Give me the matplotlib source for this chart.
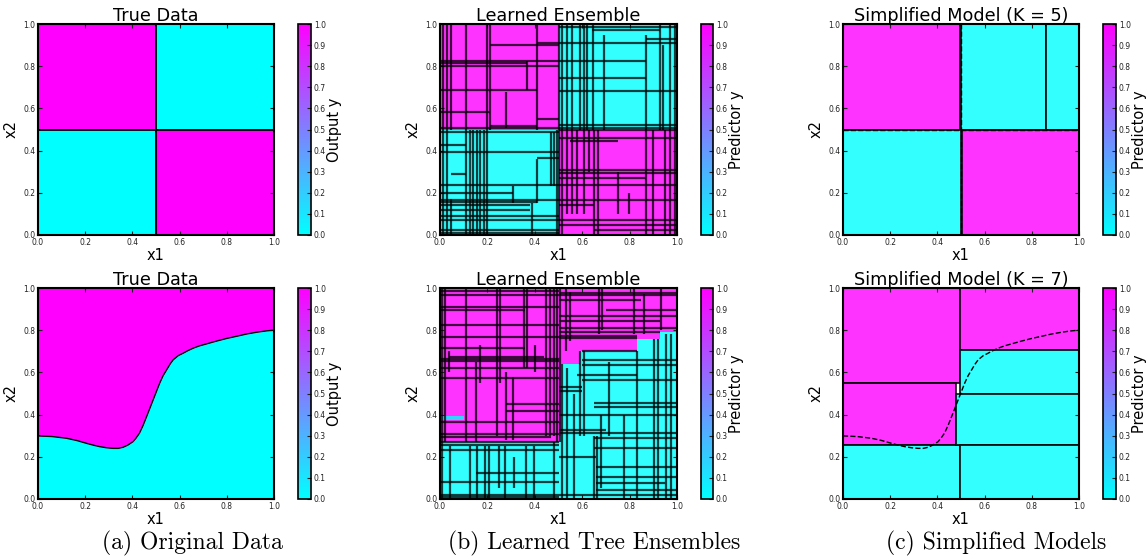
import matplotlib
matplotlib.use('Agg')
import matplotlib.pyplot as plt
import matplotlib.patches as mpatches
from matplotlib.collections import LineCollection
from matplotlib.colors import Normalize
from matplotlib.cm import ScalarMappable
import numpy as np

# ---- data ----
# cells are (x0, y0, x1, y1, value)
quad_cells = [(0.0, 0.5, 0.5, 1.0, 1), (0.5, 0.5, 1.0, 1.0, 0),
              (0.0, 0.0, 0.5, 0.5, 0), (0.5, 0.0, 1.0, 0.5, 1)]

# true boundary of the second dataset
curve_x = [0.0, 0.06, 0.12, 0.165, 0.205, 0.235, 0.262, 0.29, 0.318, 0.34, 0.36, 0.38,
           0.403, 0.415, 0.43, 0.445, 0.46, 0.474, 0.488, 0.502, 0.516, 0.53, 0.545,
           0.56, 0.573, 0.595, 0.615, 0.635, 0.658, 0.685, 0.714, 0.755, 0.8, 0.845,
           0.884, 0.93, 0.969, 1.0]
curve_y = [0.299, 0.296, 0.288, 0.277, 0.264, 0.255, 0.248, 0.243, 0.240, 0.240, 0.245, 0.255,
           0.272, 0.288, 0.312, 0.348, 0.39, 0.43, 0.47, 0.51, 0.55, 0.584, 0.612,
           0.64, 0.66, 0.68, 0.691, 0.703, 0.715, 0.726, 0.735, 0.748, 0.761, 0.772,
           0.782, 0.791, 0.797, 0.800]

# learned ensemble, dataset 1: vertical (x, y0, y1) and horizontal (y, x0, x1) splits
ens1_cells = quad_cells
ens1_vsegs = [(0.014, 0.5, 1), (0.028, 0.5, 1), (0.045, 0.5, 1), (0.11, 0.5, 1), (0.197, 0.5, 1),
              (0.21, 0.5, 1), (0.28, 0.505, 0.68), (0.366, 0.685, 0.825), (0.41, 0.5, 1), (0.5, 0, 1),
              (0.014, 0, 0.5), (0.028, 0, 0.5), (0.045, 0, 0.17), (0.11, 0, 0.5), (0.127, 0, 0.5),
              (0.14, 0, 0.5), (0.155, 0, 0.5), (0.17, 0, 0.5), (0.187, 0, 0.5), (0.2, 0, 0.5),
              (0.31, 0.15, 0.23), (0.387, 0, 0.15), (0.41, 0.15, 0.36), (0.47, 0.23, 0.49),
              (0.48, 0.23, 0.49), (0.495, 0, 0.5),
              (0.514, 0.5, 1), (0.535, 0.5, 1), (0.556, 0.5, 1), (0.59, 0.5, 1), (0.606, 0.5, 1),
              (0.62, 0.5, 1), (0.645, 0.5, 1), (0.693, 0.5, 0.95), (0.87, 0.5, 0.95), (0.93, 0.5, 1),
              (0.943, 0.5, 0.9), (0.972, 0.5, 1), (0.993, 0.5, 1),
              (0.514, 0, 0.5), (0.535, 0.1, 0.5), (0.556, 0.1, 0.5), (0.577, 0.1, 0.5),
              (0.606, 0.1, 0.5), (0.627, 0.3, 0.5), (0.648, 0, 0.5), (0.665, 0, 0.5),
              (0.753, 0.1, 0.3), (0.796, 0.1, 0.2), (0.87, 0, 0.5), (0.9, 0, 0.5), (0.95, 0, 0.5),
              (0.972, 0, 0.5), (0.993, 0, 0.5)]
ens1_hsegs = [(0.908, 0.41, 0.5), (0.9, 0.21, 0.5), (0.825, 0, 0.5), (0.815, 0, 0.366),
              (0.8, 0, 0.5), (0.685, 0, 0.41), (0.585, 0, 0.21), (0.55, 0.41, 0.5),
              (0.515, 0.21, 0.41), (0.505, 0, 0.5),
              (0.49, 0, 0.5), (0.425, 0, 0.11), (0.395, 0, 0.5), (0.363, 0.41, 0.5),
              (0.29, 0.045, 0.11), (0.237, 0, 0.5), (0.197, 0, 0.31), (0.166, 0, 0.5),
              (0.158, 0, 0.41), (0.142, 0, 0.38), (0.118, 0, 0.38), (0.09, 0, 0.5),
              (0.07, 0, 0.5), (0.024, 0, 0.5), (0.011, 0, 0.5),
              (0.987, 0.5, 1), (0.97, 0.64, 0.93), (0.927, 0.87, 1), (0.908, 0.5, 1),
              (0.825, 0.5, 0.87), (0.745, 0.5, 0.87), (0.683, 0.5, 1), (0.52, 0.5, 1),
              (0.505, 0.5, 1),
              (0.497, 0.5, 1), (0.458, 0.5, 1), (0.445, 0.55, 0.75), (0.308, 0.5, 1),
              (0.295, 0.5, 1), (0.268, 0.5, 0.87), (0.237, 0.5, 1), (0.166, 0.5, 1),
              (0.142, 0.5, 0.65), (0.07, 0.5, 1), (0.047, 0.5, 1), (0.024, 0.65, 1)]

# learned ensemble, dataset 2
ens2_cells = [(0.0, 0.0, 0.5, 0.27, 0), (0.0, 0.27, 0.5, 1.0, 1),
              (0.5, 0.0, 0.51, 0.30, 0), (0.5, 0.30, 0.51, 1.0, 1),
              (0.51, 0.0, 0.59, 0.64, 0), (0.51, 0.64, 0.59, 1.0, 1),
              (0.59, 0.0, 0.83, 0.70, 0), (0.59, 0.70, 0.83, 1.0, 1),
              (0.83, 0.0, 0.93, 0.76, 0), (0.83, 0.76, 0.93, 1.0, 1),
              (0.93, 0.0, 1.0, 0.79, 0), (0.93, 0.79, 1.0, 1.0, 1),
              (0.0, 0.375, 0.1, 0.395, 0)]
ens2_vsegs = [(0.01, 0.27, 1), (0.02, 0.27, 1), (0.04, 0.6, 0.7), (0.11, 0.27, 1), (0.15, 0.27, 0.65),
              (0.17, 0.55, 0.73), (0.24, 0.3, 1), (0.254, 0.55, 1), (0.28, 0.28, 0.6),
              (0.31, 0.28, 0.58), (0.356, 0.62, 1), (0.367, 0.62, 1), (0.4, 0.6, 0.73),
              (0.448, 0.3, 1), (0.466, 0.3, 1), (0.483, 0.3, 1), (0.494, 0.27, 1),
              (0.01, 0, 0.27), (0.042, 0, 0.25), (0.127, 0, 0.25), (0.155, 0, 0.25),
              (0.188, 0, 0.25), (0.205, 0, 0.25), (0.247, 0.05, 0.25), (0.275, 0, 0.25),
              (0.313, 0.05, 0.2), (0.364, 0, 0.25), (0.395, 0, 0.25), (0.48, 0, 0.27),
              (0.508, 0.27, 1), (0.53, 0.7, 1), (0.548, 0.75, 0.98), (0.67, 0.78, 1),
              (0.685, 0.8, 1), (0.82, 0.78, 1), (0.862, 0.78, 0.97), (0.932, 0.8, 1),
              (0.515, 0, 0.64), (0.537, 0, 0.62), (0.565, 0, 0.5), (0.59, 0.3, 0.7),
              (0.607, 0.3, 0.7), (0.65, 0, 0.3), (0.664, 0, 0.3), (0.678, 0.05, 0.4),
              (0.713, 0.3, 0.65), (0.777, 0, 0.4), (0.833, 0, 0.7), (0.904, 0, 0.76),
              (0.918, 0, 0.76), (0.953, 0, 0.78), (0.975, 0, 0.78)]
ens2_hsegs = [(0.984, 0, 0.5), (0.968, 0, 1), (0.91, 0, 0.5), (0.897, 0, 0.36), (0.826, 0, 0.5),
              (0.77, 0, 0.5), (0.715, 0, 0.36), (0.675, 0.04, 0.44), (0.663, 0, 0.5),
              (0.652, 0, 0.5), (0.62, 0, 0.5), (0.573, 0, 0.5), (0.45, 0.28, 0.5),
              (0.415, 0.28, 0.5), (0.367, 0, 0.5), (0.31, 0, 0.5), (0.296, 0, 0.47),
              (0.272, 0, 0.5),
              (0.256, 0, 0.5), (0.233, 0, 0.5), (0.122, 0.15, 0.5), (0.082, 0, 0.5),
              (0.019, 0, 0.5), (0.008, 0, 0.5),
              (0.976, 0.5, 1), (0.945, 0.5, 0.85), (0.897, 0.7, 1), (0.865, 0.5, 1),
              (0.842, 0.5, 0.93), (0.81, 0.5, 1), (0.79, 0.5, 0.93), (0.774, 0.5, 0.83),
              (0.763, 0.5, 0.83),
              (0.7, 0.6, 0.83), (0.66, 0.6, 1), (0.636, 0.6, 1), (0.589, 0.58, 0.83),
              (0.565, 0.6, 1), (0.533, 0.5, 0.6), (0.51, 0.5, 0.6), (0.454, 0.65, 1),
              (0.438, 0.65, 1), (0.4, 0.5, 1), (0.328, 0.5, 0.7), (0.312, 0.5, 1),
              (0.288, 0.65, 1), (0.24, 0.65, 1), (0.2, 0.5, 0.66), (0.153, 0.66, 1),
              (0.106, 0.66, 1), (0.074, 0.66, 0.95), (0.043, 0.66, 1), (0.019, 0.5, 1)]

# simplified models
k5_cells = [(0.0, 0.5, 0.495, 1.0, 1), (0.5, 0.5, 0.86, 1.0, 0), (0.86, 0.5, 1.0, 1.0, 0),
            (0.0, 0.0, 0.5, 0.5, 0), (0.503, 0.0, 1.0, 0.5, 1)]
k7_cells = [(0.0, 0.55, 0.495, 1.0, 1), (0.0, 0.256, 0.477, 0.55, 1), (0.0, 0.0, 0.495, 0.256, 0),
            (0.495, 0.705, 1.0, 1.0, 1), (0.495, 0.497, 1.0, 0.705, 0),
            (0.477, 0.256, 1.0, 0.497, 0), (0.495, 0.0, 1.0, 0.256, 0)]

titles = [['True Data', 'Learned Ensemble', 'Simplified Model (K = 5)'],
          ['True Data', 'Learned Ensemble', 'Simplified Model (K = 7)']]
cbar_labels = ['Output y', 'Predictor y', 'Predictor y']
captions = ['(a) Original Data', '(b) Learned Tree Ensembles', '(c) Simplified Models']

cmap = plt.get_cmap('cool')
W, H = 1146, 557


def px_axes(fig, x0, x1, top, bottom):
    return fig.add_axes([x0 / W, 1 - bottom / H, (x1 - x0) / W, (bottom - top) / H])


def style_axes(ax, title):
    ax.set_xlim(0, 1)
    ax.set_ylim(0, 1)
    ticks = np.arange(0, 1.01, 0.2)
    ax.set_xticks(ticks)
    ax.set_yticks(ticks)
    ax.set_xticklabels(['%.1f' % t for t in ticks])
    ax.set_yticklabels(['%.1f' % t for t in ticks])
    ax.tick_params(direction='in', top=True, right=True, labelsize=5.5, length=3, width=0.8, pad=2,
                   colors='#222222')
    for sp in ax.spines.values():
        sp.set_linewidth(1.5)
    ax.set_xlabel('x1', fontsize=10.5, labelpad=1)
    ax.set_ylabel('x2', fontsize=10.5, labelpad=3)
    ax.set_title(title, fontsize=12.7, pad=2)


def draw_cells(ax, cells, alpha, edge=True):
    for x0, y0, x1, y1, v in cells:
        ax.add_patch(mpatches.Rectangle((x0, y0), x1 - x0, y1 - y0, facecolor=cmap(float(v)),
                                        alpha=alpha, edgecolor='none'))
        if edge:
            ax.add_patch(mpatches.Rectangle((x0, y0), x1 - x0, y1 - y0, facecolor='none',
                                            edgecolor='black', linewidth=1.3, alpha=0.85))


def draw_splits(ax, vsegs, hsegs):
    segs = [[(x, a), (x, b)] for x, a, b in vsegs] + [[(a, y), (b, y)] for y, a, b in hsegs]
    ax.add_collection(LineCollection(segs, colors='black', linewidths=1.6, alpha=0.75))


def add_cbar(fig, x0, x1, top, bottom, label):
    cax = px_axes(fig, x0, x1, top, bottom)
    cb = fig.colorbar(ScalarMappable(norm=Normalize(0, 1), cmap=cmap), cax=cax)
    cb.set_ticks(np.arange(0, 1.01, 0.1))
    cb.set_ticklabels(['%.1f' % t for t in np.arange(0, 1.01, 0.1)])
    cax.tick_params(direction='in', labelsize=5.5, length=3, width=0.8, pad=2, colors='#222222')
    cb.outline.set_linewidth(1.2)
    cb.set_label(label, fontsize=10.5, labelpad=1)


fig = plt.figure(figsize=(W / 100, H / 100), dpi=100)

ax_cols = [(38, 274, 298, 311), (440, 677, 701, 713), (843, 1079, 1103, 1116)]
row_y = [(24, 235), (288, 499)]

for r in range(2):
    top, bottom = row_y[r]
    axes = []
    for c in range(3):
        ax0, ax1, cb0, cb1 = ax_cols[c]
        ax = px_axes(fig, ax0, ax1, top, bottom)
        axes.append(ax)
        add_cbar(fig, cb0, cb1, top, bottom, cbar_labels[c])

    a, b, c = axes
    if r == 0:
        draw_cells(a, quad_cells, 1.0, edge=False)
        a.plot([0.5, 0.5], [0, 1], color='black', lw=1.3)
        a.plot([0, 1], [0.5, 0.5], color='black', lw=1.3)
        draw_cells(b, ens1_cells, 0.8, edge=False)
        draw_splits(b, ens1_vsegs, ens1_hsegs)
        draw_cells(c, k5_cells, 0.8)
        c.plot([0.5, 0.5], [0, 1], color='black', lw=1.0, ls='--')
        c.plot([0, 1], [0.5, 0.5], color='black', lw=1.0, ls='--')
    else:
        a.fill_between(curve_x, curve_y, 1.0, color=cmap(1.0), lw=0)
        a.fill_between(curve_x, 0.0, curve_y, color=cmap(0.0), lw=0)
        a.plot(curve_x, curve_y, color='black', lw=1.0)
        draw_cells(b, ens2_cells, 0.8, edge=False)
        draw_splits(b, ens2_vsegs, ens2_hsegs)
        draw_cells(c, k7_cells, 0.8)
        c.plot(curve_x, curve_y, color='black', lw=1.0, ls='--')

    for ax, t in zip(axes, titles[r]):
        style_axes(ax, t)

cap_x = [192, 594, 996]
for x, t in zip(cap_x, captions):
    fig.text(x / W, 1 - 543 / H, t, ha='center', va='center', fontsize=17, family='cmr10')

fig.savefig('out.png', dpi=100)
